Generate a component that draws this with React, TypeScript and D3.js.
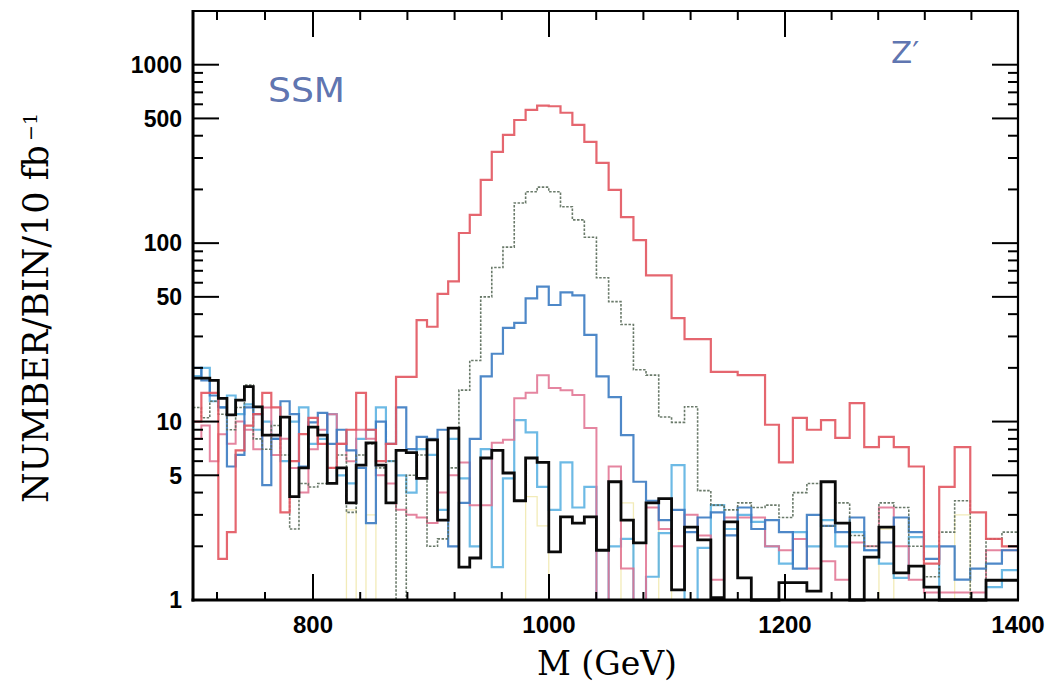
import React from "react";
import * as d3 from "d3";

// ---- binning (70 bins, constant relative width, 700–1400 GeV) ----
const M_MIN = 700;
const M_MAX = 1400;
const N_BINS = 70;
const BIN_EDGES = d3.range(N_BINS + 1).map((i) => M_MIN * Math.pow(M_MAX / M_MIN, i / N_BINS));

// ---- axis ticks ----
const X_MAJOR_TICKS = [800, 1000, 1200, 1400];
const X_MINOR_TICKS = [720, 760, 840, 880, 920, 960, 1040, 1080, 1120, 1160, 1240, 1280, 1320, 1360];
const Y_MAJOR_TICKS = [1, 5, 10, 50, 100, 500, 1000];
const Y_MINOR_TICKS = [2, 3, 4, 6, 7, 8, 9, 20, 30, 40, 60, 70, 80, 90, 200, 300, 400, 600, 700, 800, 900];

// ---- series (events per bin; 0 = empty bin) ----
const RED = [
  10, 14.5, 14.5, 1.7, 2.4, 6.9, 9.5, 11, 14.5, 12,
  3.1, 6, 8.5, 10.5, 7.5, 5.5, 7.5, 9, 14.5, 9,
  6, 7.5, 17.8, 17.8, 37, 34, 52, 61, 114, 144,
  226, 325, 404, 490, 558, 590, 585, 538, 460, 369,
  282, 199, 140, 104, 66, 66, 38, 29, 29, 19,
  19, 18.2, 18.2, 9.6, 5.9, 10.5, 9.0, 10.2, 8.1, 12.7,
  7.2, 8.2, 7.2, 5.6, 1.6, 4.3, 7.2, 3.1, 2.2, 2.0,
];
const GRAY = [
  12, 10.5, 13, 11, 9, 12, 16, 8, 7, 9.5,
  6.5, 2.5, 4.5, 4.3, 4.5, 5.5, 6.5, 3.1, 6.5, 7.5,
  5.5, 6, 0, 5, 6.5, 2, 2.2, 5.5, 15, 22,
  50, 73, 95, 168, 194, 206, 194, 160, 135, 108,
  64, 47, 35, 19.5, 18.2, 10.6, 9.9, 12.1, 4.1, 3.4,
  3.2, 3.5, 3.3, 3.4, 2.9, 4.0, 4.5, 2.6, 3.5, 2.3,
  2.0, 3.5, 3.3, 2.0, 1.35, 2.4, 3.6, 0, 2.2, 2.4,
];
const BLUE = [
  20, 17, 14, 12, 5.6, 6.5, 12, 11, 4.4, 8,
  13, 11, 5.6, 9.9, 11.2, 7.5, 9, 6.9, 5.5, 2.7,
  10, 7.5, 12, 7, 8.2, 8, 9, 2, 3.5, 8,
  17.9, 24, 33.5, 35.7, 49, 57, 45, 53, 51, 30.6,
  17.9, 13.7, 8.4, 4.6, 3.6, 2.8, 3.2, 2.4, 2.9, 3.1,
  2.3, 3.3, 2.5, 2.8, 2.4, 1.5, 3.0, 2.6, 2.4, 2.9,
  1.9, 2.1, 2.9, 2.4, 1.7, 2.0, 1.3, 1.5, 1.6, 1.9,
];
const PINK = [
  8, 9.5, 6, 8.5, 7.5, 10, 9, 7, 12, 6.5,
  8, 5.5, 4, 7, 9, 11, 7.5, 6, 9, 8,
  5, 4.5, 3.2, 3, 2.9, 2.7, 4, 5, 5.9, 3.4,
  3.4, 7.6, 7.9, 13.5, 14.5, 18.2, 15.4, 15, 14.1, 9.2,
  0, 5.6, 1.5, 0, 3.3, 2.5, 2.0, 3, 2.3, 1.3,
  2.9, 2.9, 2.9, 2.0, 1.9, 2.2, 1.5, 1.65, 1.3, 2.1,
  2.0, 3.3, 2.0, 1.3, 1.1, 1.1, 1.1, 1.1, 1.9, 1.9,
];
const CYAN = [
  18, 20, 13, 12, 14, 11, 12.5, 9, 10, 8,
  6, 10, 12, 7.5, 8, 11, 5, 4.5, 8, 9,
  12, 6, 5, 4, 7, 6.5, 3.2, 8, 4.8, 2,
  7, 1.53, 4.8, 10.2, 8.7, 4.3, 3.2, 5.9, 3.3, 4.3,
  0, 2.0, 2.2, 1.0, 1.35, 2.37, 5.7, 0, 1.96, 3.4,
  2.5, 3.0, 2.74, 2.0, 1.6, 2.4, 2.0, 2.8, 2.0, 2.4,
  1.9, 1.6, 1.33, 2.25, 2.0, 1.0, 0, 0, 1.18, 1.47,
];
const BLACK = [
  17.5, 17.5, 17, 13.5, 10.9, 13.2, 15.7, 12.1, 8.4, 8.4,
  10.6, 3.8, 5.5, 9.3, 8.4, 4.5, 5.5, 3.5, 5.7, 7.6,
  5.7, 3.5, 6.9, 6.7, 4.8, 7.9, 2.8, 9.2, 1.53, 1.72,
  6.25, 6.9, 5.15, 3.6, 6.25, 5.9, 1.86, 2.92, 2.7, 2.92,
  1.9, 4.6, 2.8, 2.09, 3.5, 3.7, 1.14, 2.56, 2.17, 1.03,
  2.74, 1.33, 0, 0, 1.25, 1.25, 1.12, 4.6, 2.7, 0,
  1.74, 2.56, 1.42, 1.55, 1.18, 0, 0, 0, 1.29, 1.29,
];
const YELLOW = [
  0, 0, 0, 0, 0, 0, 0, 0, 0, 0,
  0, 0, 0, 0, 0, 0, 0, 3.2, 0, 3.0,
  0, 0, 0, 0, 0, 0, 0, 0, 0, 0,
  0, 0, 0, 0, 3.8, 2.6, 0, 0, 0, 0,
  0, 0, 3.5, 0, 0, 2.8, 0, 0, 0, 0,
  0, 0, 0, 0, 0, 0, 0, 0, 0, 0,
  0, 2.5, 0, 0, 0, 0, 3.0, 0, 0, 0,
];

const SERIES = [
  { key: "yellow", values: YELLOW, color: "#ece39a", width: 1.3, dash: "", opacity: 0.7 },
  { key: "cyan", values: CYAN, color: "#53aee0", width: 2.2, dash: "", opacity: 0.85 },
  { key: "pink", values: PINK, color: "#e0708f", width: 2, dash: "", opacity: 0.85 },
  { key: "blue", values: BLUE, color: "#3b7bc2", width: 2.2, dash: "", opacity: 0.9 },
  { key: "gray", values: GRAY, color: "#5a6b5a", width: 1.6, dash: "2.5 1.5", opacity: 0.9 },
  { key: "red", values: RED, color: "#e2555f", width: 2.2, dash: "", opacity: 0.9 },
  { key: "black", values: BLACK, color: "#0a0a0a", width: 2.8, dash: "", opacity: 1 },
];

const LEFT = 193;
const RIGHT = 1018;
const TOP = 11;
const BOTTOM = 600;

export default function App() {
  const x = d3.scaleLinear().domain([700, 800, 1000, 1200, 1400]).range([LEFT, 313, 549, 785, RIGHT]);
  const y = d3.scaleLog().domain([1, 2000]).range([BOTTOM, TOP]).clamp(true);

  const line = d3
    .line<[number, number]>()
    .x((d) => x(d[0]))
    .y((d) => y(Math.max(d[1], 1)))
    .curve(d3.curveStepAfter);

  const pathFor = (vals: number[]) => {
    const pts: [number, number][] = vals.map((v, i) => [BIN_EDGES[i], v]);
    pts.push([BIN_EDGES[N_BINS], vals[vals.length - 1]]);
    return line(pts) || "";
  };

  const tickFont = "'Liberation Sans', Arial, sans-serif";
  const serif = "'DejaVu Serif', serif";

  return (
    <svg
      width={1048}
      height={683}
      style={{ position: "absolute", left: 0, top: 0, background: "#fff" }}
    >
      <rect x={0} y={0} width={1048} height={683} fill="#fff" />

      {/* histograms */}
      <g fill="none" strokeLinejoin="miter">
        {SERIES.map((s) => (
          <path
            key={s.key}
            d={pathFor(s.values)}
            stroke={s.color}
            strokeWidth={s.width}
            strokeDasharray={s.dash || undefined}
            strokeOpacity={s.opacity}
          />
        ))}
      </g>

      {/* frame */}
      <g stroke="#000" fill="none">
        <line x1={LEFT} x2={LEFT} y1={TOP - 1} y2={BOTTOM + 1.5} strokeWidth={3} />
        <line x1={LEFT - 1.5} x2={RIGHT + 1} y1={BOTTOM} y2={BOTTOM} strokeWidth={3} />
        <line x1={LEFT} x2={RIGHT + 1} y1={TOP} y2={TOP} strokeWidth={2.2} />
        <line x1={RIGHT} x2={RIGHT} y1={TOP} y2={BOTTOM} strokeWidth={2.2} />
      </g>

      {/* y ticks left and right */}
      <g stroke="#000" strokeWidth={2}>
        {Y_MAJOR_TICKS.map((v) => (
          <g key={"ym" + v}>
            <line x1={LEFT} x2={LEFT + 26} y1={y(v)} y2={y(v)} />
            <line x1={RIGHT} x2={RIGHT - 26} y1={y(v)} y2={y(v)} />
          </g>
        ))}
        {Y_MINOR_TICKS.map((v) => (
          <g key={"yn" + v}>
            <line x1={LEFT} x2={LEFT + 10} y1={y(v)} y2={y(v)} />
            <line x1={RIGHT} x2={RIGHT - 10} y1={y(v)} y2={y(v)} />
          </g>
        ))}
      </g>

      {/* x ticks bottom and top */}
      <g stroke="#000" strokeWidth={2}>
        {X_MAJOR_TICKS.filter((v) => v < 1400).map((v) => (
          <g key={"xm" + v}>
            <line x1={x(v)} x2={x(v)} y1={BOTTOM} y2={BOTTOM - 26} />
            <line x1={x(v)} x2={x(v)} y1={TOP} y2={TOP + 26} />
          </g>
        ))}
        {X_MINOR_TICKS.map((v) => (
          <g key={"xn" + v}>
            <line x1={x(v)} x2={x(v)} y1={BOTTOM} y2={BOTTOM - 8} />
            <line x1={x(v)} x2={x(v)} y1={TOP} y2={TOP + 9} />
          </g>
        ))}
      </g>

      {/* tick labels */}
      <g fontFamily={tickFont} fontWeight="bold" fontSize={23} fill="#000">
        {Y_MAJOR_TICKS.map((v) => (
          <text key={"yl" + v} x={182} y={y(v)} dy="0.36em" textAnchor="end">
            {v}
          </text>
        ))}
      </g>
      <g fontFamily={tickFont} fontWeight="bold" fontSize={24} fill="#000">
        {X_MAJOR_TICKS.map((v) => (
          <text key={"xl" + v} x={x(v)} y={633} textAnchor="middle">
            {v}
          </text>
        ))}
      </g>

      {/* axis titles */}
      <text
        transform="translate(48,503) rotate(-90)"
        fontFamily={serif}
        fontSize={35}
        textLength={358}
        lengthAdjust="spacingAndGlyphs"
        fill="#000"
      >
        NUMBER/BIN/10 fb
      </text>
      <text transform="translate(37,141) rotate(-90)" fontFamily={serif} fontSize={19} fill="#000">
        −1
      </text>
      <text
        x={537}
        y={675}
        fontFamily={serif}
        fontSize={34}
        textLength={140}
        lengthAdjust="spacingAndGlyphs"
        fill="#000"
      >
        M (GeV)
      </text>

      {/* hand-written annotations */}
      <text
        x={268}
        y={102}
        fontFamily="'DejaVu Sans', sans-serif"
        fontSize={34}
        textLength={77}
        lengthAdjust="spacingAndGlyphs"
        fill="#4a63a6"
        fillOpacity={0.9}
      >
        SSM
      </text>
      <text x={891} y={63} fontFamily="'DejaVu Sans', sans-serif" fontSize={31} fill="#4a63a6" fillOpacity={0.9}>
        Z′
      </text>
    </svg>
  );
}
